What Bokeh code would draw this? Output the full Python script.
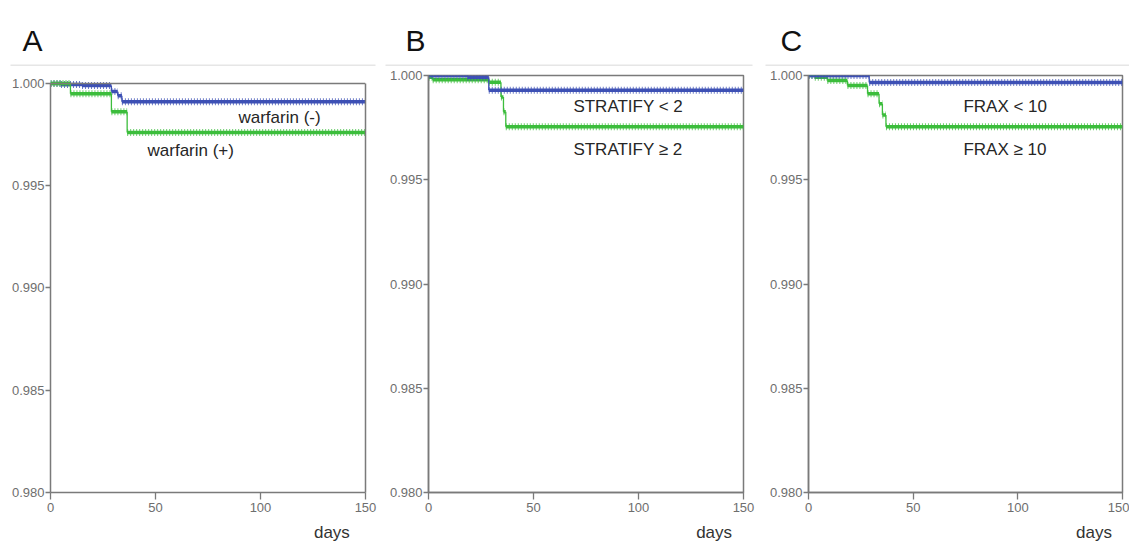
from bokeh.plotting import figure
from bokeh.layouts import row, column
from bokeh.models import (Range1d, FixedTicker, PrintfTickFormatter, LinearAxis,
                          ColumnDataSource, Span)
from bokeh.core.properties import value
from bokeh.embed import file_html
from bokeh.resources import INLINE

# ---------------- data ----------------
x_ticks = [0, 50, 100, 150]
y_ticks = [0.980, 0.985, 0.990, 0.995, 1.000]
panel_letters = ["A", "B", "C"]

# Panel A: warfarin
a_neg_days = [0, 5, 15, 29, 32, 34, 150]
a_neg_surv = [1.0, 0.99995, 0.9999, 0.9996, 0.9994, 0.9991, 0.9991]
a_pos_days = [0, 9.5, 29, 36.5, 150]
a_pos_surv = [1.0, 0.9995, 0.99862, 0.99760, 0.99760]
a_labels = ["warfarin (-)", "warfarin (+)"]

# Panel B: STRATIFY
b_low_days = [0, 18.5, 28.7, 150]
b_low_surv = [1.0, 0.99992, 0.99929, 0.99929]
b_high_days = [0, 2, 28.7, 34.5, 35.7, 36.8, 150]
b_high_surv = [0.99992, 0.9998, 0.99968, 0.99897, 0.99826, 0.99754, 0.99754]
b_labels = ["STRATIFY < 2", "STRATIFY \u2265 2"]

# Panel C: FRAX
c_low_days = [0, 29, 150]
c_low_surv = [1.0, 0.99967, 0.99967]
c_high_days = [0, 3, 9, 18.6, 28.2, 33.7, 35.3, 37, 150]
c_high_surv = [1.0, 0.99992, 0.99976, 0.99952, 0.99913, 0.99865, 0.9981, 0.99754, 0.99754]
c_labels = ["FRAX < 10", "FRAX \u2265 10"]

x_label = "days"

# header layout (page pixels): panel letters and faint separator rules
letter_x = [22, 405, 780]
letter_y = [40, 40, 40]
rule_x0 = [10, 385, 765]
rule_x1 = [375, 752, 1129]
rule_y = [65, 65, 65]

BLUE = "#3e51b5"
GREEN = "#3cbd3c"
AXIS = "#7a7a7a"
FONT = "Liberation Sans"
W, H_HEAD = 1129, 66
MB_TOP, MB_BOTTOM = 9, 48
Y_MIN, Y_MAX = 0.980, 1.000


def km(p, days, surv, color):
    hx0, hx1, hy = [], [], []
    vx, vy0, vy1 = [], [], []
    for i in range(len(days) - 1):
        hx0.append(days[i]); hx1.append(days[i + 1]); hy.append(surv[i])
        if surv[i + 1] != surv[i]:
            vx.append(days[i + 1]); vy0.append(surv[i]); vy1.append(surv[i + 1])
    hs = ColumnDataSource(dict(x0=hx0, x1=hx1, y=hy))
    vs = ColumnDataSource(dict(x=vx, y0=vy0, y1=vy1))
    p.segment(x0="x", y0="y0", x1="x", y1="y1", source=vs, line_color=color, line_width=1.3)
    p.segment(x0="x0", y0="y", x1="x1", y1="y", source=hs, line_color=color, line_width=3.5)
    p.segment(x0="x0", y0="y", x1="x1", y1="y", source=hs, line_color=color,
              line_width=7, line_dash="1 2", line_alpha=0.75)


def make_panel(width, mb_left, mb_right, top_gap, series, labels, label_x, label_y, days_x):
    # frames of a row are aligned; a panel whose box starts lower gets a little
    # head-room in its y range and draws its own box edges
    frame_h = 544 - H_HEAD - MB_TOP - MB_BOTTOM
    box_h = frame_h - top_gap
    y_end = Y_MIN + (Y_MAX - Y_MIN) * frame_h / box_h
    p = figure(width=width, height=544 - H_HEAD, output_backend="svg", toolbar_location=None,
               x_range=Range1d(0, 150), y_range=Range1d(Y_MIN, y_end),
               min_border_left=mb_left, min_border_right=mb_right,
               min_border_top=MB_TOP, min_border_bottom=MB_BOTTOM)
    p.background_fill_color = "white"
    p.border_fill_color = "white"
    p.grid.visible = False
    if top_gap == 0:
        p.outline_line_color = AXIS
        p.outline_line_width = 1.5
    else:
        p.outline_line_color = None
        rax = LinearAxis(ticker=FixedTicker(ticks=[]), bounds=(Y_MIN, Y_MAX))
        rax.axis_line_color = AXIS
        rax.axis_line_width = 1.5
        rax.major_tick_line_color = None
        rax.minor_tick_line_color = None
        p.add_layout(rax, "right")
        p.add_layout(Span(location=Y_MAX, dimension="width", line_color=AXIS, line_width=1.5))

    for ax in (p.xaxis[0], p.yaxis[0]):
        ax.axis_line_color = AXIS
        ax.axis_line_width = 1.5
        ax.major_tick_line_color = AXIS
        ax.major_tick_line_width = 1.3
        ax.major_tick_in = 0
        ax.minor_tick_line_color = None
        ax.major_label_text_font = FONT
        ax.major_label_text_font_size = "13px"
        ax.major_label_text_color = "#6e6e6e"
    p.xaxis[0].ticker = FixedTicker(ticks=x_ticks)
    p.xaxis[0].major_tick_out = 7
    p.xaxis[0].major_label_standoff = 3
    p.yaxis[0].ticker = FixedTicker(ticks=y_ticks)
    p.yaxis[0].bounds = (Y_MIN, Y_MAX)
    p.yaxis[0].formatter = PrintfTickFormatter(format="%.3f")
    p.yaxis[0].major_tick_out = 5
    p.yaxis[0].major_label_standoff = 1

    # "days" label, placed right of centre like the reference
    dax = LinearAxis(ticker=FixedTicker(ticks=[days_x]),
                     major_label_overrides={days_x: x_label})
    dax.axis_line_color = None
    dax.major_tick_line_color = None
    dax.minor_tick_line_color = None
    dax.major_tick_out = 0
    dax.major_tick_in = 0
    dax.major_label_standoff = 8
    dax.major_label_text_font = FONT
    dax.major_label_text_font_size = "17px"
    dax.major_label_text_color = "#333333"
    p.add_layout(dax, "below")

    for days, surv, color in series:
        km(p, days, surv, color)

    p.text(x=label_x, y=label_y, text=labels, text_font=value(FONT), text_font_size="17px",
           text_baseline="middle", text_align="left", text_color="#262626")
    return p


# header strip with the panel letters
head = figure(width=W, height=H_HEAD, output_backend="svg", toolbar_location=None,
              x_range=Range1d(0, W), y_range=Range1d(H_HEAD, 0),
              x_axis_type=None, y_axis_type=None,
              min_border_left=0, min_border_right=0, min_border_top=0, min_border_bottom=0)
head.outline_line_color = None
head.grid.visible = False
head.background_fill_color = "white"
head.border_fill_color = "white"
head.segment(x0=rule_x0, y0=rule_y, x1=rule_x1, y1=rule_y, line_color="#e6e6e6", line_width=2)
head.text(x=letter_x, y=letter_y, text=panel_letters, text_font=value(FONT),
          text_font_size="30px", text_color="#111111", text_baseline="alphabetic",
          text_align="left")

pa = make_panel(380, 50, 15, 8,
                [(a_neg_days, a_neg_surv, BLUE), (a_pos_days, a_pos_surv, GREEN)],
                a_labels, [89.5, 46.2], [0.99835, 0.99671], 134)
pb = make_panel(380, 48, 17, 0,
                [(b_high_days, b_high_surv, GREEN), (b_low_days, b_low_surv, BLUE)],
                b_labels, [69, 69], [0.99853, 0.99644], 136)
pc = make_panel(369, 48, 7, 0,
                [(c_high_days, c_high_surv, GREEN), (c_low_days, c_low_surv, BLUE)],
                c_labels, [74, 74], [0.99853, 0.99643], 136.4)

layout = column(head, row(pa, pb, pc))
open("out.html", "w").write(file_html(layout, INLINE))
